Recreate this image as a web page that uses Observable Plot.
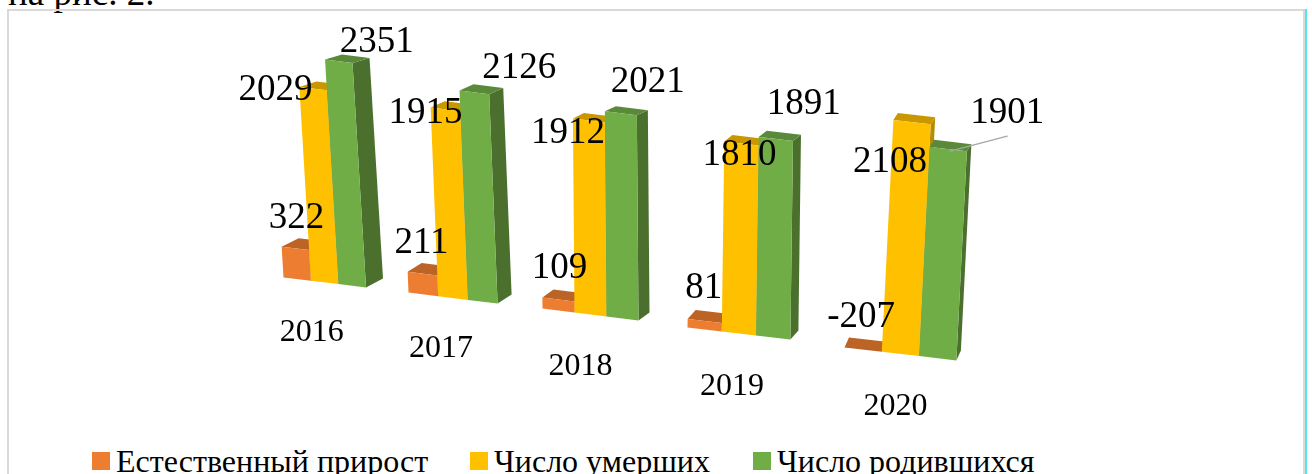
<!DOCTYPE html>
<html lang="ru">
<head>
<meta charset="utf-8">
<script src="https://cdn.jsdelivr.net/npm/d3@7"></script>
<script src="https://cdn.jsdelivr.net/npm/@observablehq/plot@0.6"></script>
<style>
html,body{margin:0;padding:0;background:#fff;width:1312px;height:474px;overflow:hidden;font-family:"Liberation Serif",serif;color:#000}
#lead{position:absolute;left:8px;top:-27px;font-size:37px;line-height:40px}
#frame{position:absolute;left:7px;top:9px;width:1298px;height:480px;border:2px solid #d9d9d9;box-sizing:border-box}
#edge{position:absolute;left:1305px;top:9px;width:2px;height:465px;background:#50e8e8}
#chart{position:absolute;left:0;top:0;filter:blur(0.4px)}
#legend{position:absolute;left:0;top:448px;width:1312px;height:32px;font-size:32px;line-height:26px}
#legend span{position:absolute;top:0;white-space:nowrap}
#legend i{position:absolute;top:4px;width:18px;height:18px}
</style>
</head>
<body>
<div id="lead">на рис. 2.</div>
<div id="frame"></div>
<div id="edge"></div>
<div id="chart"></div>
<div id="legend"></div>
<script>
// ---- data ----
const years = [2016, 2017, 2018, 2019, 2020];
const seriesNames = ["Естественный прирост", "Число умерших", "Число родившихся"];
const naturalGrowth = [322, 211, 109, 81, -207];
const deaths = [2029, 1915, 1912, 1810, 2108];
const births = [2351, 2126, 2021, 1891, 1901];
const seriesValues = [naturalGrowth, deaths, births];

// ---- styles ----
const frontColors = ["#ED7D31", "#FFC000", "#70AD47"];
const topColors = ["#BC6326", "#C99800", "#5A8A39"];
const sideColors = ["#A85A24", "#B88C00", "#4B702E"];

// ---- perspective of the 3D view, one entry per year ----
const originX = [283, 408, 542, 687, 844];
const originY = [277, 292, 308, 327, 347];
const barWidth = [27.5, 29.7, 32, 34.3, 37.3];
const baseDrop = [3.3, 3.7, 4, 4, 4.3];
const unitHeight = [0.0955, 0.0985, 0.1015, 0.105, 0.11];
const lean = [-0.06, -0.04, -0.008, 0.013, 0.05];
const depthX = [17, 14, 11, 8, 4.5];
const depthYBottom = [-9, -9, -8, -9, -10];
const depthYTop = [-5, -6, -5, -6, -7];

// label offsets from the top-front centre of each bar [year][series]
const labelDx = [[1, -37.5, 38], [-1, -20, 45], [1, -21, 27], [-1, -2, 28], [-2, -22, 59]];
const labelDy = [[-18, 13.5, -7], [-18, 16, -12], [-19, 25, -19], [-20, 24, -22], [-20, 52, -24]];
const yearDx = [-13, -12, -10, -7, -5];
const yearDy = [60, 60, 61, 62, 62.5];

// where a point of a bar lands: u across the bar (0..1 per bar), h value above base, back = 0..1 depth
function project(yi, s, u, value, back) {
  const h = Math.max(value, 0) * unitHeight[yi];
  const depthY = depthYBottom[yi] + (depthYTop[yi] - depthYBottom[yi]) * Math.min(h / 220, 1);
  return {
    x: originX[yi] + (s + u) * barWidth[yi] + lean[yi] * h + back * depthX[yi],
    y: originY[yi] + (s + u) * baseDrop[yi] - h + back * depthY
  };
}

const faces = [];
function addFace(id, color, pts) {
  pts.forEach(p => faces.push({id, color, x: p.x, y: p.y}));
}
years.forEach((year, yi) => {
  seriesValues.forEach((vals, s) => {
    const v = vals[yi];
    const P = (u, val, b) => project(yi, s, u, val, b);
    addFace(`${year}-${s}-side`, sideColors[s], [P(1, 0, 0), P(1, 0, 1), P(1, v, 1), P(1, v, 0)]);
    addFace(`${year}-${s}-top`, topColors[s], [P(0, v, 0), P(0, v, 1), P(1, v, 1), P(1, v, 0)]);
    if (v > 0) addFace(`${year}-${s}-front`, frontColors[s], [P(0, 0, 0), P(1, 0, 0), P(1, v, 0), P(0, v, 0)]);
  });
});

const valueLabels = [];
years.forEach((year, yi) => {
  seriesValues.forEach((vals, s) => {
    const top = project(yi, s, 0.5, vals[yi], 0);
    valueLabels.push({x: top.x + labelDx[yi][s], y: top.y + labelDy[yi][s], text: String(vals[yi])});
  });
});

const yearLabels = years.map((year, yi) => {
  const base = project(yi, 1, 0.5, 0, 0);
  return {x: base.x + yearDx[yi], y: base.y + yearDy[yi], text: String(year)};
});

// leader line of the 2020 births label
const last = years.length - 1;
const birthTop = project(last, 2, 0.5, births[last], 0);
const leader = [
  {x: birthTop.x + 2, y: birthTop.y + 2},
  {x: birthTop.x + labelDx[last][2], y: birthTop.y + labelDy[last][2] + 11}
];

const svgHeight = 448;
const chart = Plot.plot({
  width: 1312,
  height: svgHeight,
  margin: 0,
  x: {domain: [0, 1312], range: [0, 1312], axis: null},
  y: {domain: [0, svgHeight], range: [0, svgHeight], axis: null},
  color: {type: "identity"},
  style: {background: "transparent", overflow: "visible"},
  marks: [
    Plot.line(faces, {x: "x", y: "y", z: "id", fill: "color", stroke: "none", curve: "linear"}),
    Plot.line(leader, {x: "x", y: "y", stroke: "#a6a6a6", strokeWidth: 1.3}),
    Plot.text(valueLabels, {x: "x", y: "y", text: "text", fontSize: 37, fontFamily: "Liberation Serif", fill: "#000", textAnchor: "middle", lineAnchor: "bottom", dy: -2.5}),
    Plot.text(yearLabels, {x: "x", y: "y", text: "text", fontSize: 32, fontFamily: "Liberation Serif", fill: "#000", textAnchor: "middle", lineAnchor: "bottom", dy: -1})
  ]
});
document.getElementById("chart").append(chart);

// legend below the plot
const legendSwatchX = [92, 470, 753];
const legendTextX = [116, 494, 777];
const legend = d3.select("#legend");
seriesNames.forEach((name, s) => {
  legend.append("i").style("left", legendSwatchX[s] + "px").style("background", frontColors[s]);
  legend.append("span").style("left", legendTextX[s] + "px").text(name);
});
</script>
</body>
</html>
